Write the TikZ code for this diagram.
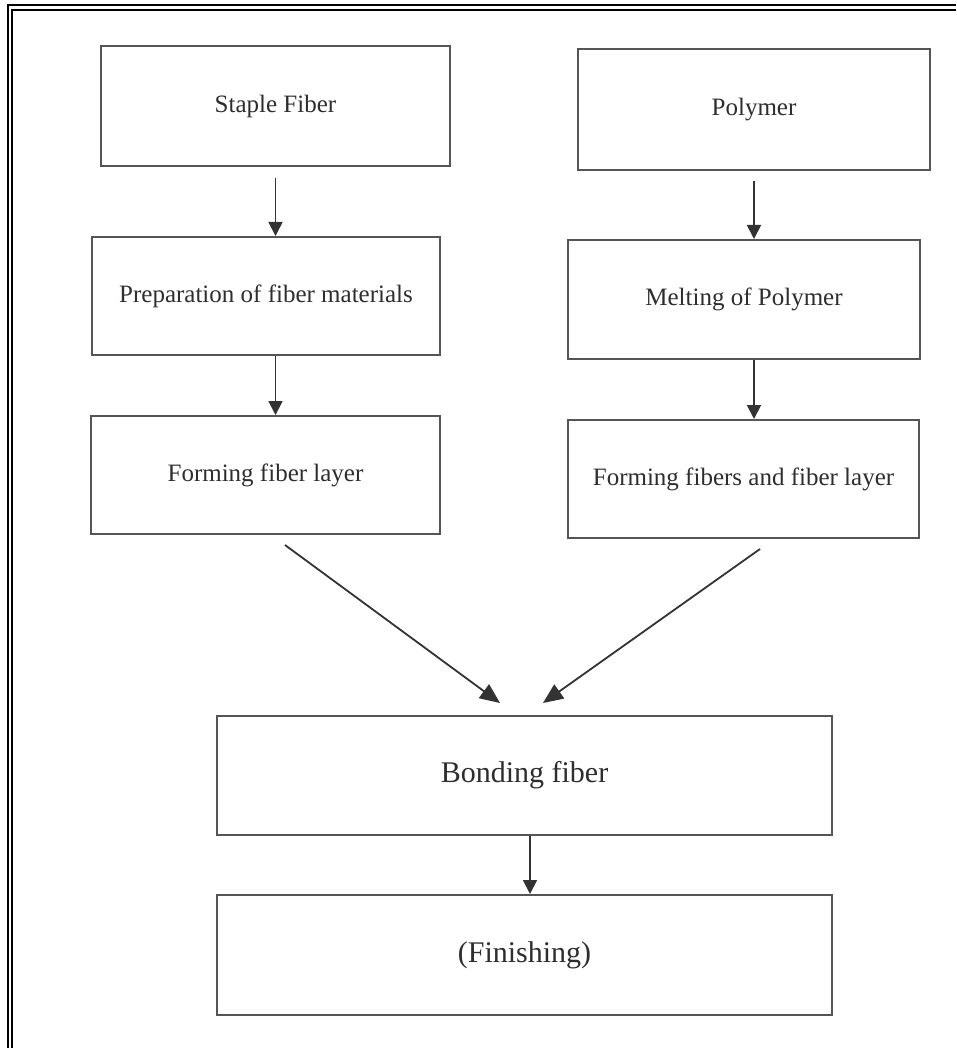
\documentclass[tikz,border=0pt]{standalone}
\usepackage{fontspec}
\setmainfont{Liberation Serif}
\usetikzlibrary{arrows.meta}
\definecolor{boxline}{HTML}{555555}
\definecolor{txt}{HTML}{2E2E2E}
\definecolor{arrline}{HTML}{333333}
\tikzset{
  procbox/.style={draw=boxline, line width=2pt, rectangle, inner sep=0pt,
    text=txt, font=\fontsize{25}{30}\selectfont},
  bigbox/.style={procbox, font=\fontsize{30}{36}\selectfont},
  arr/.style={draw=arrline, line width=1.8pt, -{Triangle[length=14pt,width=14pt]}},
  diagarr/.style={draw=arrline, line width=1.8pt, -{Triangle[length=20pt,width=17pt]}},
  frameline/.style={draw=black, line width=2pt}
}
\begin{document}
\begin{tikzpicture}[x=1pt,y=-1pt]
\useasboundingbox[fill=white] (0,0) rectangle (956,1048);
% outer double frame (left and top)
\draw[frameline] (8,1048) -- (8,5.5) -- (956,5.5);
\draw[frameline] (12,1048) -- (12,10) -- (956,10);
% boxes
\node[procbox, minimum width=349pt, minimum height=120pt] (staple) at (275.5,106) {Staple Fiber};
\node[procbox, minimum width=352pt, minimum height=121pt] (polymer) at (754,109.5) {Polymer};
\node[procbox, minimum width=348pt, minimum height=118pt] (prep) at (266,296) {Preparation of fiber materials};
\node[procbox, minimum width=352pt, minimum height=119pt] (melt) at (744,299.5) {Melting of Polymer};
\node[procbox, minimum width=349pt, minimum height=118pt] (form1) at (265.5,475) {Forming fiber layer};
\node[procbox, minimum width=351pt, minimum height=118pt] (form2) at (743.5,479) {Forming fibers and fiber layer};
\node[bigbox, minimum width=615pt, minimum height=119pt] (bond) at (524.5,775.5) {Bonding fiber};
\node[bigbox, minimum width=615pt, minimum height=120pt] (finish) at (524.5,955) {(Finishing)};
% vertical arrows
\draw[arr] ([yshift=-11pt]staple.south) -- (staple.south |- prep.north);
\draw[arr] ([yshift=-10pt]polymer.south) -- (polymer.south |- melt.north);
\draw[arr] (staple.south |- prep.south) -- (staple.south |- form1.north);
\draw[arr] (polymer.south |- melt.south) -- (polymer.south |- form2.north);
\draw[arr] ([xshift=5.5pt]bond.south) -- ([xshift=5.5pt]finish.north);
% diagonal arrows
\draw[diagarr] ([xshift=19.5pt,yshift=-10pt]form1.south) -- ([xshift=-24.5pt,yshift=12pt]bond.north);
\draw[diagarr] ([xshift=16.5pt,yshift=-10pt]form2.south) -- ([xshift=18.5pt,yshift=12pt]bond.north);
\end{tikzpicture}
\end{document}
